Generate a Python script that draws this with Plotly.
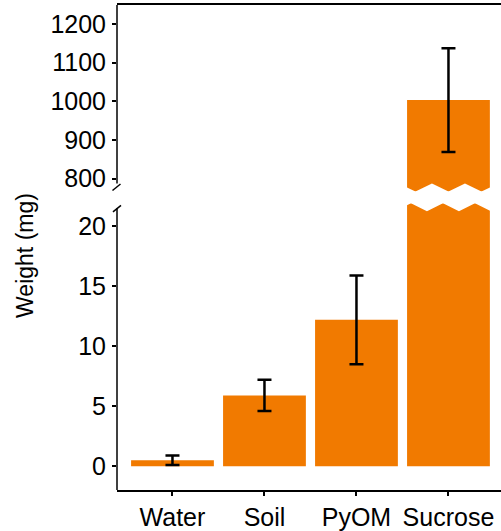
import plotly.graph_objects as go

# ---- data ----
categories = ["Water", "Soil", "PyOM", "Sucrose"]
weight_mean = [0.5, 5.9, 12.2, 1003]
weight_err = [0.4, 1.3, 3.7, 134]
low_ticks = [0, 5, 10, 15, 20]
high_ticks = [800, 900, 1000, 1100, 1200]

ORANGE = "#F17A00"
FONT = "Liberation Sans, Arial, Helvetica, sans-serif"

W, H = 501, 531
L, R, T, B = 117, 0, 5, 37
PW, PH = W - L - R, H - T - B


def pyp(py):
    return (H - B - py) / PH


def pxp(px):
    return (px - L) / PW


x_range = [-0.603, 3.571]
low_range = [-1.98, 21.9]
high_range = [766.7, 1248.7]

err = dict(type="data", array=weight_err, color="black", thickness=2.5, width=7)

fig = go.Figure()
fig.add_trace(go.Bar(x=categories, y=weight_mean, error_y=err,
                     marker=dict(color=ORANGE, line=dict(width=0)),
                     xaxis="x", yaxis="y", showlegend=False))
fig.add_trace(go.Bar(x=categories, y=weight_mean, error_y=err,
                     marker=dict(color=ORANGE, line=dict(width=0)),
                     xaxis="x2", yaxis="y2", showlegend=False))

tickfont = dict(family=FONT, size=25, color="black")
yax_common = dict(showline=False, showgrid=False, zeroline=False, ticks="outside",
                  ticklen=4, tickwidth=1.5, tickcolor="black", tickfont=tickfont,
                  ticklabelstandoff=1)

shapes = []
line = dict(color="black", width=1.5)
# y-axis lines (broken)
shapes.append(dict(type="line", xref="paper", yref="paper", x0=0, x1=0,
                   y0=pyp(185), y1=1, line=line))
shapes.append(dict(type="line", xref="paper", yref="paper", x0=0, x1=0,
                   y0=0, y1=pyp(210), line=line))
# break marks
shapes.append(dict(type="line", xref="paper", yref="paper", x0=pxp(112.5), x1=pxp(120.5),
                   y0=pyp(192), y1=pyp(185.5), line=line))
shapes.append(dict(type="line", xref="paper", yref="paper", x0=pxp(113), x1=pxp(121),
                   y0=pyp(213.5), y1=pyp(207), line=line))

# zigzag gap over the tallest bar
idx = weight_mean.index(max(weight_mean))
cx = L + (idx - x_range[0]) / (x_range[1] - x_range[0]) * PW
top_edge = [(-42.5, 188.4), (-33, 193), (-16.5, 185), (0, 193), (16.5, 185), (33, 193), (42.5, 188.4)]
bot_edge = [(42.5, 213), (26.5, 205), (10.5, 213), (-5.5, 205), (-21.5, 213), (-37.5, 205), (-42.5, 207.5)]
pts = top_edge + bot_edge
path = "M " + " L ".join(f"{pxp(cx + dx):.5f},{pyp(py):.5f}" for dx, py in pts) + " Z"
shapes.append(dict(type="path", xref="paper", yref="paper", path=path,
                   fillcolor="white", line=dict(width=0), layer="above"))

fig.update_layout(
    width=W, height=H,
    margin=dict(l=L, r=R, t=T, b=B, pad=0),
    paper_bgcolor="white", plot_bgcolor="white",
    bargap=0.1,
    font=dict(family=FONT, color="black"),
    xaxis=dict(type="category", range=x_range, anchor="y", showline=True,
               linecolor="black", linewidth=1.5, ticks="outside", ticklen=4,
               tickwidth=1.5, tickcolor="black", tickfont=tickfont,
               ticklabelstandoff=0,
               showgrid=False, zeroline=False),
    xaxis2=dict(type="category", range=x_range, anchor="y2", matches="x",
                showline=True, linecolor="black", linewidth=1.5, side="top",
                ticks="", showticklabels=False, showgrid=False, zeroline=False),
    yaxis=dict(domain=[0, pyp(205)], range=low_range, tickvals=low_ticks, **yax_common),
    yaxis2=dict(domain=[pyp(193), 1], range=high_range, tickvals=high_ticks, **yax_common),
    shapes=shapes,
    annotations=[dict(text="Weight (mg)", textangle=-90, xref="paper", yref="paper",
                      x=pxp(25), y=pyp(258), xanchor="center", yanchor="middle",
                      showarrow=False, font=dict(family=FONT, size=23, color="black"))],
)

fig.write_html("out.html")
